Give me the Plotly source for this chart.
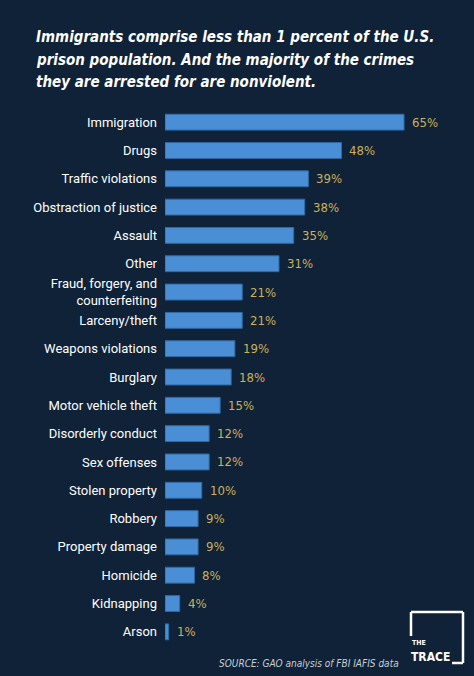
import plotly.graph_objects as go

categories = ["Immigration", "Drugs", "Traffic violations", "Obstraction of justice",
              "Assault", "Other", "Fraud, forgery, and<br>counterfeiting", "Larceny/theft",
              "Weapons violations", "Burglary", "Motor vehicle theft", "Disorderly conduct",
              "Sex offenses", "Stolen property", "Robbery", "Property damage", "Homicide",
              "Kidnapping", "Arson"]
values = [65, 48, 39, 38, 35, 31, 21, 21, 19, 18, 15, 12, 12, 10, 9, 9, 8, 4, 1]
value_labels = [f"{v}%" for v in values]

title_lines = ["Immigrants comprise less than 1 percent of the U.S.",
               "prison population. And the majority of the crimes",
               "they are arrested for are nonviolent."]
source_text = "SOURCE: GAO analysis of FBI IAFIS data"

W, H = 474, 676
L, R, T, B = 165, 10, 108, 30
PW, PH = W - L - R, H - T - B
BG = "#0f2237"
BAR = "#4a8fd5"
GOLD = "#cdb05a"
NARROW = "DejaVu Sans Condensed"

def px(x):
    return (x - L) / PW

def py(y):
    return (H - B - y) / PH

fig = go.Figure()
fig.add_trace(go.Bar(
    x=values, y=categories, orientation="h", width=0.56,
    marker=dict(color=BAR, line=dict(color="#2f6aa6", width=1)),
    hoverinfo="skip",
))

for c, v, t in zip(categories, values, value_labels):
    fig.add_annotation(x=v, y=c, xref="x", yref="y", text=t, showarrow=False,
                       xanchor="left", yanchor="middle", xshift=6,
                       font=dict(family=NARROW, size=13, color=GOLD))

fig.add_annotation(x=px(401), y=py(663), xref="paper", yref="paper", text=f"<i>{source_text}</i>",
                   showarrow=False, xanchor="right", yanchor="middle",
                   font=dict(family=NARROW, size=10, color="#c9cfd6"))

# title
for line, yc in zip(title_lines, [37, 60, 82]):
    fig.add_annotation(x=px(34), y=py(yc), xref="paper", yref="paper", text=f"<b><i>{line}</i></b>",
                       showarrow=False, xanchor="left", yanchor="middle", align="left",
                       font=dict(family=NARROW, size=15, color="white"))

# logo
lw = 2.5
logo_lines = [
    (411, 612, 463, 612),
    (411, 612, 411, 636),
    (463, 612, 463, 663),
    (452, 663, 463, 663),
]
for x0, y0, x1, y1 in logo_lines:
    fig.add_shape(type="line", xref="paper", yref="paper", x0=px(x0), y0=py(y0), x1=px(x1), y1=py(y1),
                  line=dict(color="white", width=lw))
fig.add_annotation(x=px(410), y=py(643), xref="paper", yref="paper", text="<b>THE</b>",
                   showarrow=False, xanchor="left", yanchor="middle",
                   font=dict(family=NARROW, size=7, color="white"))
fig.add_annotation(x=px(409), y=py(657), xref="paper", yref="paper", text="<b>TRACE</b>",
                   showarrow=False, xanchor="left", yanchor="middle",
                   font=dict(family=NARROW, size=12, color="white"))

fig.update_layout(
    width=W, height=H,
    margin=dict(l=L, r=R, t=T, b=B),
    paper_bgcolor=BG, plot_bgcolor=BG,
    showlegend=False,
    xaxis=dict(range=[0, PW / (239 / 65)], visible=False, fixedrange=True),
    yaxis=dict(autorange="reversed", showgrid=False, zeroline=False, showline=False,
               ticks="", ticklabelstandoff=7,
               tickfont=dict(family="Roboto, sans-serif", size=13, color="white")),
)

fig.write_html("out.html")
